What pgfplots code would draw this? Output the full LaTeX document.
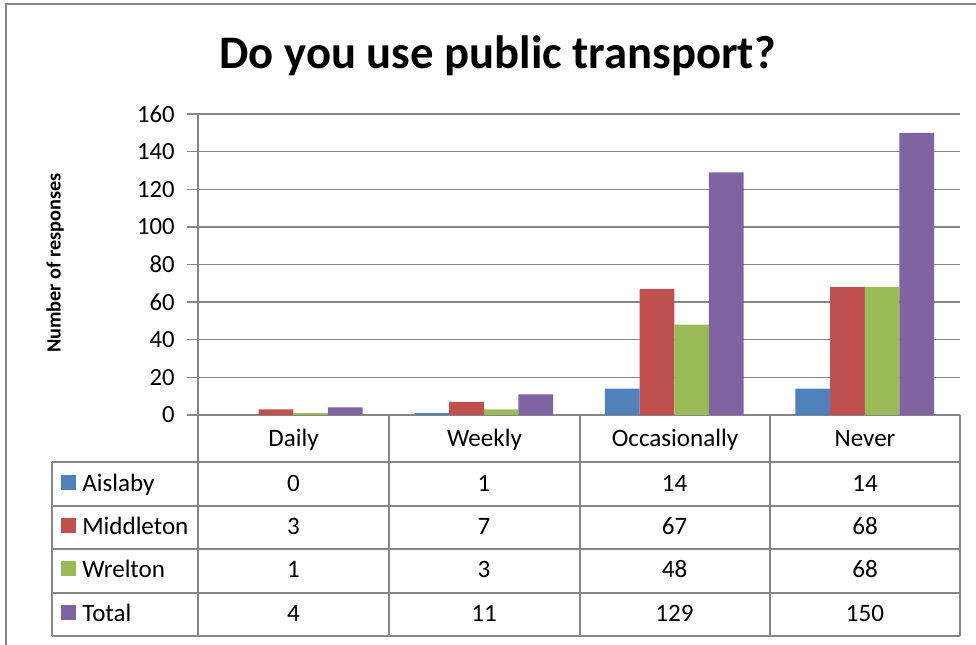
\documentclass[border=0pt]{standalone}
\usepackage{pgfplots}
\pgfplotsset{compat=1.18}
\usepackage{pgfplotstable}
\usepackage{fontspec}
\setmainfont{Carlito}
\definecolor{cA}{HTML}{4F81BD}
\definecolor{cM}{HTML}{C0504D}
\definecolor{cW}{HTML}{9BBB59}
\definecolor{cT}{HTML}{8064A2}
\definecolor{gridc}{HTML}{868686}
\pgfplotstableread{
x A M W T
0 0 3 1 4
1 1 7 3 11
2 14 67 48 129
3 14 68 68 150
}\data
\begin{document}
\begin{tikzpicture}[x=0.75pt,y=-0.75pt]
\path[use as bounding box] (0,0) rectangle (976,645);
\begin{axis}[
  at={(148.5pt,-311.25pt)}, anchor=south west,
  scale only axis, width=571.5pt, height=225.75pt,
  xmin=-0.5, xmax=3.5, ymin=0, ymax=160,
  ytick={0,20,...,160}, xtick=\empty,
  axis y line=left, axis x line=bottom,
  axis line style={-, gridc, line width=1.2pt},
  ymajorgrids, grid style={gridc, line width=1pt},
  tick align=outside, major tick length=8pt,
  tick style={gridc, line width=1pt},
  /pgf/number format/assume math mode=true,
  yticklabel style={font=\fontsize{18.5}{21}\selectfont, text=black, xshift=-6pt},
  ybar=0pt, bar width=26pt,
  clip=false,
]
\addplot[ybar, fill=cA, draw=none] table[x=x,y=A] {\data};
\addplot[ybar, fill=cM, draw=none] table[x=x,y=M] {\data};
\addplot[ybar, fill=cW, draw=none] table[x=x,y=W] {\data};
\addplot[ybar, fill=cT, draw=none] table[x=x,y=T] {\data};
\end{axis}
% outer frame
\draw[gridc, line width=1.5pt] (6,645) -- (6,4) -- (976,4);
% title
\node[font=\bfseries\fontsize{35}{40}\selectfont, anchor=base] at (497.5,69) {Do you use public transport?};
% y label
\node[rotate=90, font=\bfseries\fontsize{15.2}{17}\selectfont] at (55,263) {Number of responses};
% data table lines
\begin{scope}[gridc, line width=1.2pt]
\foreach \xx in {198,389,580,770,960} \draw (\xx,415) -- (\xx,636);
\draw (52,462) -- (52,636);
\foreach \yy in {462,506,549,593,636} \draw (52,\yy) -- (960,\yy);
\end{scope}
\begin{scope}[font=\fontsize{18.8}{21}\selectfont]
\node[anchor=base] at (293.5,447) {Daily};
\node[anchor=base] at (484.5,447) {Weekly};
\node[anchor=base] at (675,447) {Occasionally};
\node[anchor=base] at (865,447) {Never};
\fill[cA] (61,475) rectangle (76,490);
\fill[cM] (61,518) rectangle (76,533);
\fill[cW] (61,561) rectangle (76,576);
\fill[cT] (61,605) rectangle (76,620);
\node[anchor=base west, inner sep=0pt] at (82,492) {Aislaby};
\node[anchor=base west, inner sep=0pt] at (82,535) {Middleton};
\node[anchor=base west, inner sep=0pt] at (82,578) {Wrelton};
\node[anchor=base west, inner sep=0pt] at (82,622) {Total};
\foreach \v [count=\i from 0] in {0,1,14,14} \node[anchor=base] at (293.5+190.5*\i,492) {\v};
\foreach \v [count=\i from 0] in {3,7,67,68} \node[anchor=base] at (293.5+190.5*\i,535) {\v};
\foreach \v [count=\i from 0] in {1,3,48,68} \node[anchor=base] at (293.5+190.5*\i,578) {\v};
\foreach \v [count=\i from 0] in {4,11,129,150} \node[anchor=base] at (293.5+190.5*\i,622) {\v};
\end{scope}
\end{tikzpicture}
\end{document}
